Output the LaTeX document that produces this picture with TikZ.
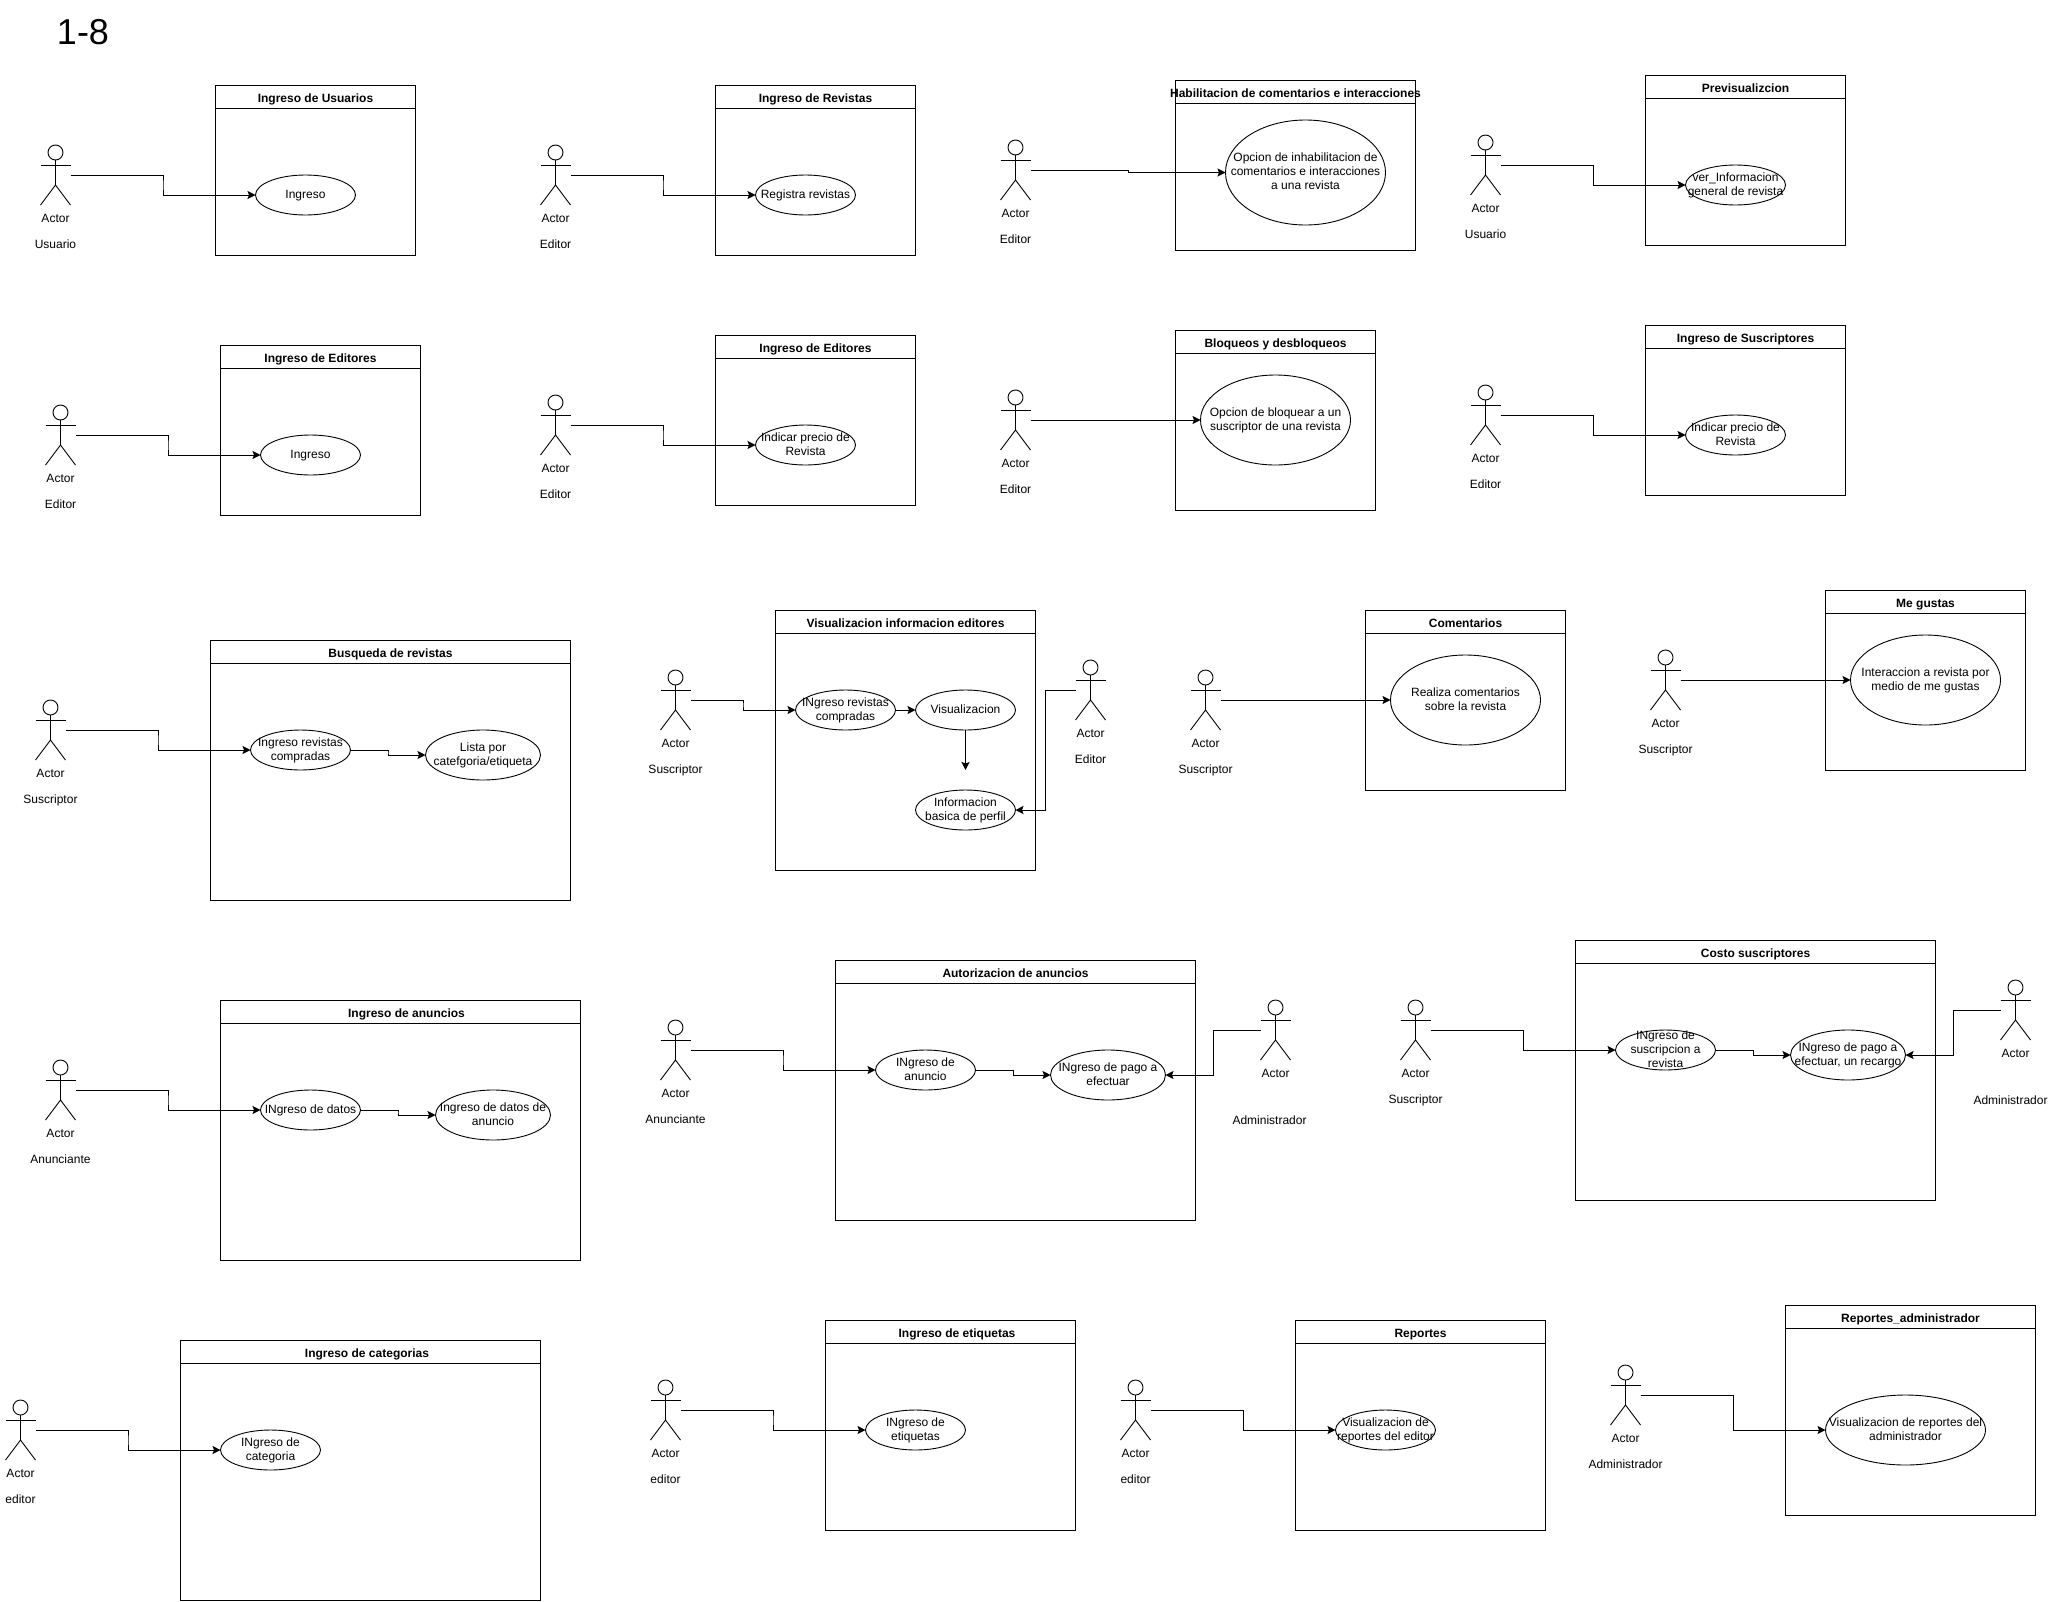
\documentclass[tikz,border=0pt]{standalone}
\usepackage{fontspec}
\setmainfont{Liberation Sans}
\usetikzlibrary{arrows.meta,calc,shapes.geometric}
\newcommand{\ucfont}{\fontsize{12}{14}\selectfont}
% actor: name, left, top, role
\newcommand{\actorfig}[5][yshift=-40.5pt]{%
  \node[actorbox] (#2) at (#3,#4) {};
  \draw[ucline] ([yshift=-7.5pt]#2.north) circle (7.5pt);
  \draw[ucline] ([yshift=-15pt]#2.north) -- ([yshift=20pt]#2.south);
  \draw[ucline] ([yshift=10pt]#2.west) -- ([yshift=10pt]#2.east);
  \draw[ucline] (#2.south west) -- ([yshift=20pt]#2.south) -- (#2.south east);
  \node[uctext] (#2a) at ([yshift=-14.5pt]#2.south) {Actor};
  \node[uctext] (#2r) at ([#1]#2.south) {#5};
}
% system box: name, left, top, width, height, title
\newcommand{\sysbox}[7][0pt]{%
  \node[sysrect,minimum width=#5,minimum height=#6] (#2) at (#3,#4-1) {};
  \draw[ucline] ([yshift=-23pt]#2.north west) -- ([yshift=-23pt]#2.north east);
  \node[uctitle] (#2t) at ([xshift=#1,yshift=-14.5pt]#2.north) {#7};
}
% use case: name, left, top, width, height, text
\newcommand{\ucase}[6]{%
  \node[ucell,minimum width=#4,minimum height=#5] (#1) at (#2+#4/2,#3+#5/2) {};
  \node[uctext] (#1t) at ([yshift=-1pt]#1.center) {#6};
}
\begin{document}
\begin{tikzpicture}[x=1pt,y=-1pt,
  ucline/.style={line width=0.9pt,black},
  actorbox/.style={anchor=north west,minimum width=30,minimum height=60,inner sep=0,outer sep=0},
  sysrect/.style={draw,line width=0.9pt,anchor=north west,inner sep=0,outer sep=0},
  ucell/.style={draw,line width=0.9pt,ellipse,inner sep=0,outer sep=0},
  uctext/.style={font=\ucfont,align=center,inner sep=0,execute at begin node=\strut,execute at end node=\strut},
  uctitle/.style={font=\ucfont\bfseries,align=center,inner sep=0,execute at begin node=\strut,execute at end node=\strut},
  ar/.style={-{Stealth[length=8pt,width=8pt,inset=1.5pt]},line width=1pt},
  hvh/.style={to path={-| ($(\tikztostart)!.5!(\tikztotarget)$) |- (\tikztotarget)}}]
\useasboundingbox (0,0) rectangle (2048,1601);
\node[font=\fontsize{36}{40}\selectfont] (head) at (83,32) {1-8};

% row 1
\actorfig{a1}{40.5}{145}{Usuario}
\sysbox{b1}{215.5}{86}{200}{170}{Ingreso de Usuarios}
\ucase{c1}{255.5}{175}{100}{40}{Ingreso}
\draw[ar] (a1.east) to[hvh] (c1.west);
\actorfig{a2}{540.5}{145}{Editor}
\sysbox{b2}{715.5}{86}{200}{170}{Ingreso de Revistas}
\ucase{c2}{755.5}{175}{100}{40}{Registra revistas}
\draw[ar] (a2.east) to[hvh] (c2.west);
\actorfig{a3}{1000.5}{140}{Editor}
\sysbox{b3}{1175.5}{81}{240}{170}{\makebox[240pt]{Habilitacion de comentarios e interacciones}}
\ucase{c3}{1225.5}{120}{160}{105}{Opcion de inhabilitacion de\\comentarios e interacciones\\a una revista}
\draw[ar] (a3.east) to[hvh] (c3.west);
\actorfig{a4}{1470.5}{135}{Usuario}
\sysbox{b4}{1645.5}{76}{200}{170}{Previsualizcion}
\ucase{c4}{1685.5}{165}{100}{40}{ver\_Informacion\\general de revista}
\draw[ar] (a4.east) to[hvh] (c4.west);

% row 2
\actorfig{a5}{45.5}{405}{Editor}
\sysbox{b5}{220.5}{346}{200}{170}{Ingreso de Editores}
\ucase{c5}{260.5}{435}{100}{40}{Ingreso}
\draw[ar] (a5.east) to[hvh] (c5.west);
\actorfig{a6}{540.5}{395}{Editor}
\sysbox{b6}{715.5}{336}{200}{170}{Ingreso de Editores}
\ucase{c6}{755.5}{425}{100}{40}{Indicar precio de\\Revista}
\draw[ar] (a6.east) to[hvh] (c6.west);
\actorfig{a7}{1000.5}{390}{Editor}
\sysbox{b7}{1175.5}{331}{200}{180}{Bloqueos y desbloqueos}
\ucase{c7}{1200.5}{375}{150}{90}{Opcion de bloquear a un\\suscriptor de una revista}
\draw[ar] (a7.east) -- (c7.west);
\actorfig{a8}{1470.5}{385}{Editor}
\sysbox{b8}{1645.5}{326}{200}{170}{Ingreso de Suscriptores}
\ucase{c8}{1685.5}{415}{100}{40}{Indicar precio de\\Revista}
\draw[ar] (a8.east) to[hvh] (c8.west);

% row 3
\actorfig{a9}{35.5}{700}{Suscriptor}
\sysbox{b9}{210.5}{641}{360}{260}{Busqueda de revistas}
\ucase{c9}{250.5}{730}{100}{40}{Ingreso revistas\\compradas}
\ucase{d9}{425.5}{730}{115}{50}{Lista por\\catefgoria/etiqueta}
\draw[ar] (a9.east) to[hvh] (c9.west);
\draw[ar] (c9.east) to[hvh] (d9.west);
\actorfig{a10}{660.5}{670}{Suscriptor}
\actorfig{e10}{1075.5}{660}{Editor}
\sysbox{b10}{775.5}{611}{260}{260}{Visualizacion informacion editores}
\ucase{c10}{795.5}{690}{100}{40}{INgreso revistas\\compradas}
\ucase{d10}{915.5}{690}{100}{40}{Visualizacion}
\ucase{f10}{915.5}{790}{100}{40}{Informacion\\basica de perfil}
\coordinate (d10end) at (965.5,770);
\draw[ar] (a10.east) to[hvh] (c10.west);
\draw[ar] (c10.east) -- (d10.west);
\draw[ar] (d10.south) -- (d10end);
\draw[ar] (e10.west) to[hvh] (f10.east);
\actorfig{a11}{1190.5}{670}{Suscriptor}
\sysbox{b11}{1365.5}{611}{200}{180}{Comentarios}
\ucase{c11}{1390.5}{655}{150}{90}{Realiza comentarios\\sobre la revista}
\draw[ar] (a11.east) -- (c11.west);
\actorfig{a12}{1650.5}{650}{Suscriptor}
\sysbox{b12}{1825.5}{591}{200}{180}{Me gustas}
\ucase{c12}{1850.5}{635}{150}{90}{Interaccion a revista por\\medio de me gustas}
\draw[ar] (a12.east) -- (c12.west);

% row 4
\actorfig{a13}{45.5}{1060}{Anunciante}
\sysbox[6pt]{b13}{220.5}{1001}{360}{260}{Ingreso de anuncios}
\ucase{c13}{260.5}{1090}{100}{40}{INgreso de datos}
\ucase{d13}{435.5}{1090}{115}{50}{Ingreso de datos de\\anuncio}
\draw[ar] (a13.east) to[hvh] (c13.west);
\draw[ar] (c13.east) to[hvh] (d13.west);
\actorfig{a14}{660.5}{1020}{Anunciante}
\actorfig[xshift=-6pt,yshift=-61.5pt]{e14}{1260.5}{1000}{Administrador}
\sysbox{b14}{835.5}{961}{360}{260}{Autorizacion de anuncios}
\ucase{c14}{875.5}{1050}{100}{40}{INgreso de\\anuncio}
\ucase{d14}{1050.5}{1050}{115}{50}{INgreso de pago a\\efectuar}
\draw[ar] (a14.east) to[hvh] (c14.west);
\draw[ar] (c14.east) to[hvh] (d14.west);
\draw[ar] (e14.west) to[hvh] (d14.east);
\actorfig{a15}{1400.5}{1000}{Suscriptor}
\actorfig[xshift=-5pt,yshift=-61.5pt]{e15}{2000.5}{980}{Administrador}
\sysbox{b15}{1575.5}{941}{360}{260}{Costo suscriptores}
\ucase{c15}{1615.5}{1030}{100}{40}{INgreso de\\suscripcion a\\revista}
\ucase{d15}{1790.5}{1030}{115}{50}{INgreso de pago a\\efectuar, un recargo}
\draw[ar] (a15.east) to[hvh] (c15.west);
\draw[ar] (c15.east) to[hvh] (d15.west);
\draw[ar] (e15.west) to[hvh] (d15.east);

% row 5
\actorfig{a16}{5.5}{1400}{editor}
\sysbox[6.5pt]{b16}{180.5}{1341}{360}{260}{Ingreso de categorias}
\ucase{c16}{220.5}{1430}{100}{40}{INgreso de\\categoria}
\draw[ar] (a16.east) to[hvh] (c16.west);
\actorfig{a17}{650.5}{1380}{editor}
\sysbox[6.5pt]{b17}{825.5}{1321}{250}{210}{Ingreso de etiquetas}
\ucase{c17}{865.5}{1410}{100}{40}{INgreso de\\etiquetas}
\draw[ar] (a17.east) to[hvh] (c17.west);
\actorfig{a18}{1120.5}{1380}{editor}
\sysbox{b18}{1295.5}{1321}{250}{210}{Reportes}
\ucase{c18}{1335.5}{1410}{100}{40}{Visualizacion de\\reportes del editor}
\draw[ar] (a18.east) to[hvh] (c18.west);
\actorfig{a19}{1610.5}{1365}{Administrador}
\sysbox{b19}{1785.5}{1306}{250}{210}{Reportes\_administrador}
\ucase{c19}{1825.5}{1395}{160}{70}{Visualizacion de reportes del\\administrador}
\draw[ar] (a19.east) to[hvh] (c19.west);
\end{tikzpicture}
\end{document}
